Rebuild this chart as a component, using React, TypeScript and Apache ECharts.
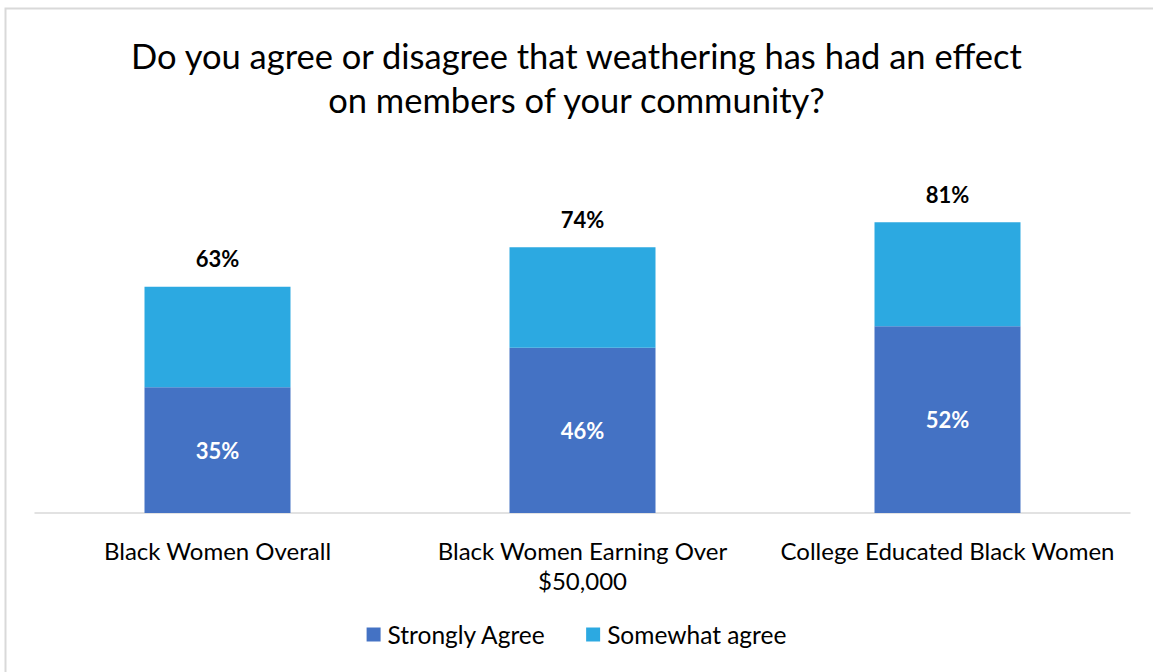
import React, { useEffect, useRef } from "react";
import * as echarts from "echarts";

const categories = ["Black Women Overall", "Black Women Earning Over\n$50,000", "College Educated Black Women"];
const stronglyAgree = [35, 46, 52];
const somewhatAgree = [28, 28, 29];
const totals = [63, 74, 81];

const FONT = "Lato, 'Open Sans', sans-serif";

export default function App() {
  const ref = useRef<HTMLDivElement>(null);
  useEffect(() => {
    const chart = echarts.init(ref.current!, null, { renderer: "svg" });
    chart.setOption({
      animation: false,
      backgroundColor: "#ffffff",
      title: {
        text: "Do you agree or disagree that weathering has had an effect\non members of your community?",
        left: "center",
        top: 28,
        textStyle: { fontFamily: FONT, fontSize: 34.5, fontWeight: "normal", color: "#000000", lineHeight: 44 },
      },
      graphic: [
        {
          type: "rect",
          shape: { x: 5.5, y: 8.5, width: 1200, height: 700 },
          style: { fill: "none", stroke: "#d9d9d9", lineWidth: 2 },
          silent: true,
        },
      ],
      legend: {
        bottom: 20,
        left: "center",
        itemWidth: 14,
        itemHeight: 14,
        itemGap: 40,
        icon: "rect",
        textStyle: { fontFamily: FONT, fontSize: 24.5, color: "#000000", padding: [0, 0, 0, 2] },
        data: ["Strongly Agree", "Somewhat agree"],
      },
      grid: { left: 35, right: 23, top: 154, bottom: 159, containLabel: false },
      xAxis: {
        type: "category",
        data: categories,
        axisLine: { show: true, lineStyle: { color: "#d9d9d9", width: 1.5 } },
        axisTick: { show: false },
        axisLabel: { fontFamily: FONT, fontSize: 24, color: "#000000", margin: 22, lineHeight: 30, interval: 0 },
      },
      yAxis: { type: "value", min: 0, max: 100, show: false, splitLine: { show: false } },
      series: [
        {
          name: "Strongly Agree",
          type: "bar",
          stack: "a",
          data: stronglyAgree,
          barWidth: "40%",
          itemStyle: { color: "#4472c4" },
          label: {
            show: true,
            position: "inside",
            formatter: "{c}%",
            fontFamily: FONT,
            fontSize: 22,
            fontWeight: "bold",
            color: "#ffffff",
          },
        },
        {
          name: "Somewhat agree",
          type: "bar",
          stack: "a",
          data: somewhatAgree,
          barWidth: "40%",
          itemStyle: { color: "#2ca9e1" },
          label: {
            show: true,
            position: "top",
            distance: 17,
            formatter: (p: any) => `${totals[p.dataIndex]}%`,
            fontFamily: FONT,
            fontSize: 22,
            fontWeight: "bold",
            color: "#000000",
          },
        },
      ],
    });
    return () => chart.dispose();
  }, []);
  return <div ref={ref} style={{ width: 1153, height: 672, position: "absolute", left: 0, top: 0 }} />;
}
